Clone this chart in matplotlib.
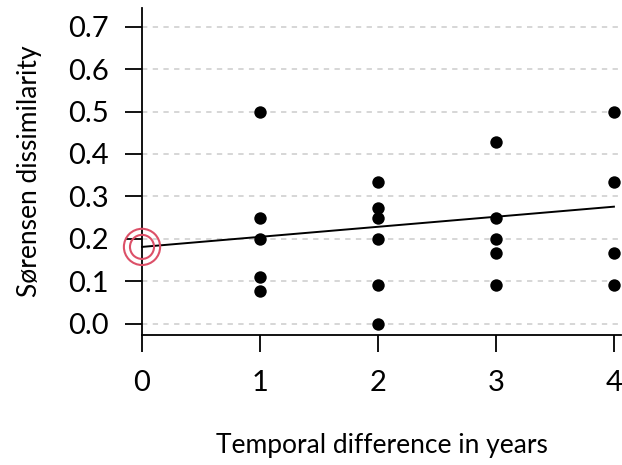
import numpy as np
import matplotlib.pyplot as plt

plt.rcParams['font.family'] = ['Lato', 'DejaVu Sans']

# pairwise dissimilarities by temporal distance
years = [1, 1, 1, 1, 1,
         2, 2, 2, 2, 2, 2,
         3, 3, 3, 3, 3,
         4, 4, 4, 4]
dissim = [0.500, 0.250, 0.200, 0.111, 0.077,
          0.333, 0.273, 0.250, 0.200, 0.091, 0.000,
          0.429, 0.250, 0.200, 0.167, 0.091,
          0.500, 0.333, 0.167, 0.091]

# fitted trend
intercept = 0.181
slope = 0.0237

yticks = [0.0, 0.1, 0.2, 0.3, 0.4, 0.5, 0.6, 0.7]
xticks = [0, 1, 2, 3, 4]

fig = plt.figure(figsize=(6.22, 4.65), dpi=100)
ax = fig.add_axes([142/622, 1 - 335/465, (621 - 142)/622, (335 - 8)/465])

ax.set_xlim(0, 4.06)
ax.set_ylim(-0.0266, 0.744)

for yt in yticks:
    ax.axhline(yt, color='#cccccc', lw=1.1, ls=(0, (3.5, 3.5)), zorder=0)

xs = np.array([0, 4])
ax.plot(xs, intercept + slope * xs, color='black', lw=1.4, zorder=2, clip_on=False)

ax.scatter(years, dissim, s=80, color='black', zorder=3, clip_on=False, linewidths=0)

# highlight the intercept
ax.scatter([0], [intercept], s=680, facecolors='none', edgecolors='#dc5068',
           linewidths=1.5, zorder=4, clip_on=False)
ax.scatter([0], [intercept], s=300, facecolors='none', edgecolors='#dc5068',
           linewidths=1.5, zorder=4, clip_on=False)

for side in ['top', 'right']:
    ax.spines[side].set_visible(False)
for side in ['left', 'bottom']:
    ax.spines[side].set_linewidth(1.3)

ax.set_yticks(yticks)
ax.set_yticklabels(['%.1f' % v for v in yticks])
ax.set_xticks(xticks)
ax.set_xticklabels([str(v) for v in xticks])
ax.tick_params(axis='y', length=12, width=1.3, pad=12, labelsize=21)
ax.tick_params(axis='x', length=12, width=1.3, pad=13, labelsize=21)

ax.set_xlabel('Temporal difference in years', fontsize=19, labelpad=27)
ax.set_ylabel('Sørensen dissimilarity', fontsize=19, labelpad=19)

fig.savefig('out.png', dpi=100)
